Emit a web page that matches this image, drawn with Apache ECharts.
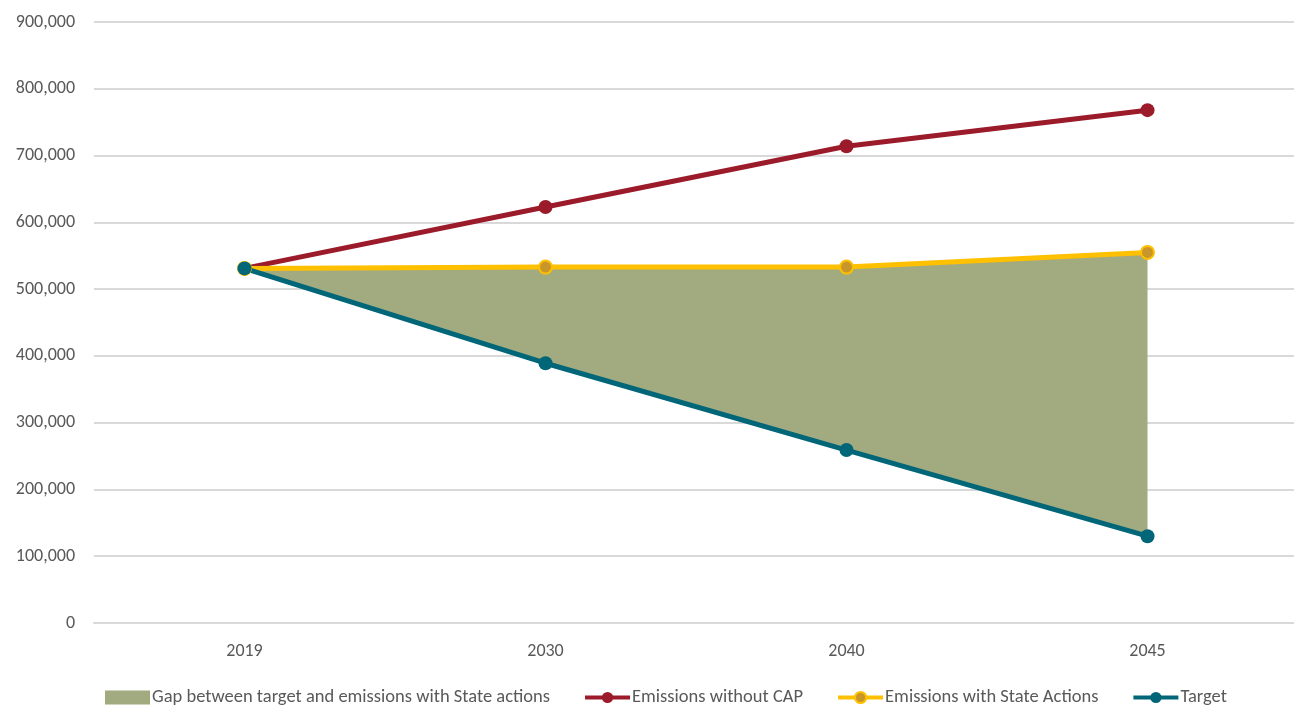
<!DOCTYPE html>
<html>
<head>
<meta charset="utf-8">
<script src="https://cdn.jsdelivr.net/npm/echarts@6/dist/echarts.min.js"></script>
<style>
  html, body { margin: 0; padding: 0; background: #fff; overflow: hidden; }
  #chart { width: 1302px; height: 708px; }
</style>
</head>
<body>
<div id="chart"></div>
<script>
// Emissions pathways (tonnes CO2e)
const years = ['2019', '2030', '2040', '2045'];
const withoutCap = [531000, 623000, 714000, 768000];
const stateActions = [531000, 533000, 533000, 555000];
const target = [531000, 389000, 259000, 130000];
const yTicks = [0, 900000, 100000]; // min, max, interval

// band between the target and the State-actions line
const gap = stateActions.map((v, i) => v - target[i]);

const FONT = 'Carlito, Lato, "Open Sans", sans-serif';
const RED = '#9b1b2a', YELLOW = '#ffc000', TEAL = '#006678', GAP = '#a2aa7f';

const chart = echarts.init(document.getElementById('chart'));
chart.setOption({
  animation: false,
  textStyle: { fontFamily: FONT },
  grid: { left: 94, right: 4, top: 22, bottom: 85, containLabel: false },
  legend: {
    top: 683,
    left: 100,
    itemWidth: 45,
    itemHeight: 14,
    itemGap: 33,
    lineStyle: { width: 4 },
    textStyle: { fontSize: 18.5, color: '#595959', fontFamily: FONT, padding: [0, 0, 0, -3] },
    data: [
      { name: 'Gap between target and emissions with State actions', icon: 'rect' },
      'Emissions without CAP',
      'Emissions with State Actions',
      'Target'
    ]
  },
  xAxis: {
    type: 'category',
    data: years,
    boundaryGap: true,
    axisLine: { show: true, lineStyle: { color: '#d9d9d9', width: 2 } },
    axisTick: { show: false },
    axisLabel: { color: '#595959', fontSize: 18, margin: 19 }
  },
  yAxis: {
    type: 'value',
    min: yTicks[0],
    max: yTicks[1],
    interval: yTicks[2],
    axisLine: { show: false },
    axisTick: { show: false },
    axisLabel: {
      color: '#595959', fontSize: 18, margin: 19,
      formatter: v => v.toLocaleString('en-US')
    },
    splitLine: { lineStyle: { color: '#d9d9d9', width: 2 } }
  },
  series: [
    {
      name: 'base',
      type: 'line',
      stack: 'gap',
      data: target,
      symbol: 'none',
      lineStyle: { opacity: 0 },
      silent: true
    },
    {
      name: 'Gap between target and emissions with State actions',
      type: 'line',
      stack: 'gap',
      data: gap,
      symbol: 'none',
      lineStyle: { opacity: 0 },
      itemStyle: { color: GAP },
      areaStyle: { color: GAP, opacity: 1 }
    },
    {
      name: 'Emissions without CAP',
      type: 'line',
      data: withoutCap,
      symbol: 'circle',
      symbolSize: 14,
      lineStyle: { color: RED, width: 5 },
      itemStyle: { color: RED }
    },
    {
      name: 'Emissions with State Actions',
      type: 'line',
      data: stateActions,
      symbol: 'circle',
      symbolSize: 13,
      lineStyle: { color: YELLOW, width: 5 },
      itemStyle: { color: '#c9962a', borderColor: YELLOW, borderWidth: 2 }
    },
    {
      name: 'Target',
      type: 'line',
      data: target,
      symbol: 'circle',
      symbolSize: 14,
      lineStyle: { color: TEAL, width: 5 },
      itemStyle: { color: TEAL }
    }
  ]
});
</script>
</body>
</html>
